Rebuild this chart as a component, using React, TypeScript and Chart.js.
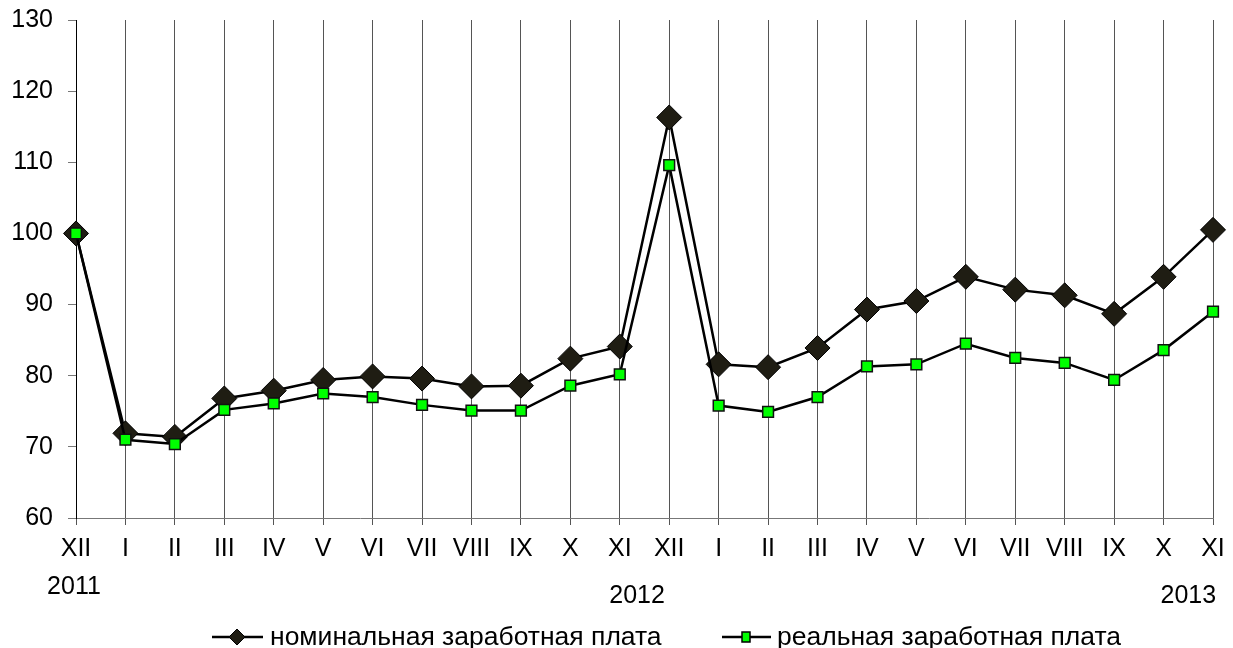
import React, { useEffect, useRef } from "react";
import { Chart, registerables } from "chart.js";

Chart.register(...registerables);

const categories = ["XII", "I", "II", "III", "IV", "V", "VI", "VII", "VIII", "IX", "X", "XI", "XII", "I", "II", "III", "IV", "V", "VI", "VII", "VIII", "IX", "X", "XI"];
const nominalWage = [100, 71.9, 71.4, 76.8, 77.9, 79.4, 79.9, 79.6, 78.5, 78.6, 82.4, 84.1, 116.3, 81.6, 81.2, 83.9, 89.3, 90.5, 93.9, 92.1, 91.3, 88.7, 93.9, 100.5];
const realWage = [100, 71.0, 70.4, 75.2, 76.1, 77.5, 77.0, 75.9, 75.1, 75.1, 78.6, 80.2, 109.6, 75.8, 74.9, 77.0, 81.3, 81.6, 84.5, 82.5, 81.8, 79.4, 83.6, 89.0];
const yearLabels = ["2011", "2012", "2013"];
const yearIndex = [0, 11, 23];
const seriesNames = ["номинальная заработная плата", "реальная заработная плата"];
const yTicks = [60, 70, 80, 90, 100, 110, 120, 130];

const FONT = '"Liberation Sans", Arial, sans-serif';
const DARK = "#1f1d13";
const GREEN = "#00ff00";

const extrasPlugin = {
  id: "extras",
  afterDraw(chart: any) {
    const ctx = chart.ctx;
    const xs = chart.scales.x;
    ctx.save();
    ctx.font = `25px ${FONT}`;
    ctx.fillStyle = "#000";
    ctx.textBaseline = "alphabetic";
    // year labels
    const p0 = xs.getPixelForValue(yearIndex[0]);
    const p1 = xs.getPixelForValue(yearIndex[1]);
    const p2 = xs.getPixelForValue(yearIndex[2]);
    const step = xs.getPixelForValue(1) - xs.getPixelForValue(0);
    ctx.textAlign = "center";
    ctx.fillText(yearLabels[0], p0 - 2, 594);
    ctx.fillText(yearLabels[1], p1 + step * 0.35, 603);
    ctx.fillText(yearLabels[2], p2 - step * 0.5, 603);

    // legend
    const ly = 637;
    ctx.font = `26.5px ${FONT}`;
    ctx.strokeStyle = "#000";
    ctx.lineWidth = 2.5;
    // item 1
    ctx.beginPath();
    ctx.moveTo(212, ly);
    ctx.lineTo(263, ly);
    ctx.stroke();
    ctx.beginPath();
    ctx.moveTo(237, ly - 8);
    ctx.lineTo(245, ly);
    ctx.lineTo(237, ly + 8);
    ctx.lineTo(229, ly);
    ctx.closePath();
    ctx.fillStyle = DARK;
    ctx.fill();
    ctx.lineWidth = 1;
    ctx.stroke();
    ctx.fillStyle = "#000";
    ctx.textAlign = "left";
    ctx.fillText(seriesNames[0], 270, 645);
    // item 2
    ctx.lineWidth = 2.5;
    ctx.beginPath();
    ctx.moveTo(722, ly);
    ctx.lineTo(771, ly);
    ctx.stroke();
    ctx.fillStyle = GREEN;
    ctx.fillRect(742, ly - 5, 8, 10);
    ctx.lineWidth = 1.5;
    ctx.strokeRect(742, ly - 5, 8, 10);
    ctx.fillStyle = "#000";
    ctx.fillText(seriesNames[1], 777, 645);
    ctx.restore();
  },
};

export default function App() {
  const ref = useRef<HTMLCanvasElement>(null);
  useEffect(() => {
    document.body.style.margin = "0";
    const chart = new Chart(ref.current!, {
      type: "line",
      data: {
        labels: categories,
        datasets: [
          {
            label: seriesNames[0],
            data: nominalWage,
            borderColor: "#000",
            borderWidth: 2.5,
            pointStyle: "rectRot",
            pointRadius: 12.5,
            pointBackgroundColor: DARK,
            pointBorderColor: "#000",
            pointBorderWidth: 1,
            tension: 0,
            order: 2,
          },
          {
            label: seriesNames[1],
            data: realWage,
            borderColor: "#000",
            borderWidth: 2.5,
            pointStyle: "rect",
            pointRadius: 7.6,
            pointBackgroundColor: GREEN,
            pointBorderColor: "#111",
            pointBorderWidth: 1.5,
            tension: 0,
            order: 1,
          },
        ],
      },
      options: {
        animation: false,
        responsive: false,
        events: [],
        layout: { padding: { top: 20, right: 20, left: 0, bottom: 0 } },
        plugins: { legend: { display: false }, tooltip: { enabled: false } },
        scales: {
          x: {
            offset: false,
            grid: { color: "#555", lineWidth: 1, tickLength: 7, drawTicks: true },
            border: { color: "#777", width: 1 },
            ticks: { color: "#000", font: { family: FONT, size: 25 }, padding: 9, maxRotation: 0, autoSkip: false },
            afterFit: (s: any) => { s.height = 130; s.paddingLeft = 0; s.paddingRight = 0; },
          },
          y: {
            min: 60,
            max: 130,
            afterBuildTicks: (s: any) => { s.ticks = yTicks.map((v) => ({ value: v })); },
            grid: { drawOnChartArea: false, color: "#777", tickLength: 8 },
            border: { color: "#000", width: 1 },
            ticks: { color: "#000", font: { family: FONT, size: 25 }, padding: 15 },
            afterFit: (s: any) => { s.width = 76; s.paddingTop = 0; s.paddingBottom = 0; },
          },
        },
      },
      plugins: [extrasPlugin],
    });
    return () => chart.destroy();
  }, []);
  return <canvas ref={ref} width={1233} height={648} style={{ display: "block" }} />;
}
